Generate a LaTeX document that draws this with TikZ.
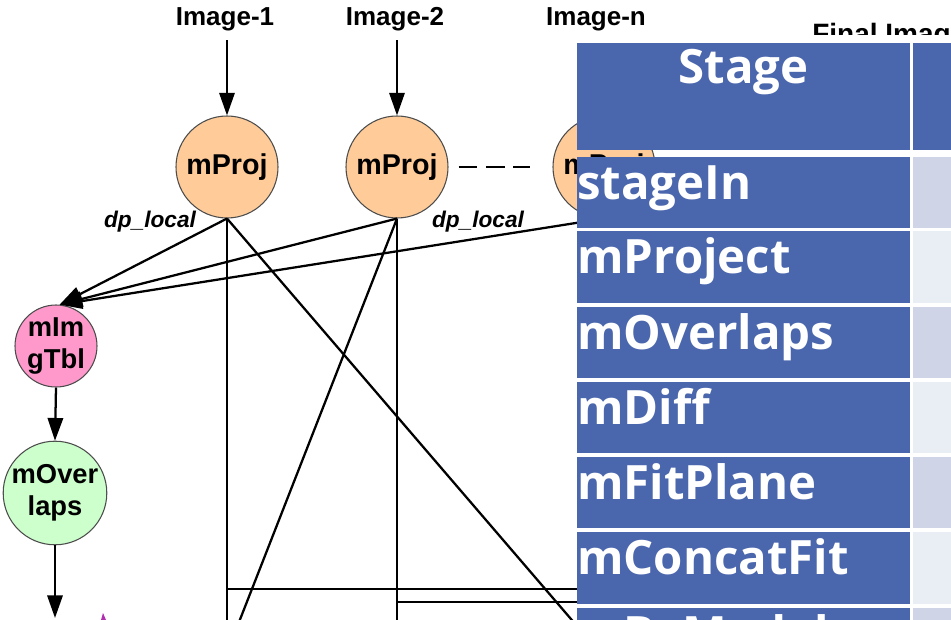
\documentclass[tikz,border=0pt]{standalone}
\usepackage{fontspec}
\setmainfont{Liberation Sans}
\newfontfamily\tablefont{Open Sans}
\usetikzlibrary{arrows.meta}

\definecolor{projorange}{HTML}{FFCC99}
\definecolor{tblpink}{HTML}{FF99CC}
\definecolor{ovlgreen}{HTML}{CCFFCC}
\definecolor{hdrblue}{HTML}{4A66AC}
\definecolor{cellA}{HTML}{CFD5E6}
\definecolor{cellB}{HTML}{E9EDF4}
\definecolor{markpurple}{HTML}{B030B0}

\tikzset{
  job/.style={circle, draw=black!70, line width=0.8pt, inner sep=0pt, align=center,
    font=\bfseries\fontsize{20.5}{24}\selectfont},
  projjob/.style={job, fill=projorange, minimum size=76.5pt,
    font=\bfseries\fontsize{21.5}{25}\selectfont},
  conn/.style={line width=1.7pt, draw=black},
  arr/.style={conn, -{Triangle[length=17pt,width=11.5pt]}},
  inlabel/.style={font=\bfseries\fontsize{19.5}{23}\selectfont, inner sep=7pt},
  dplabel/.style={font=\bfseries\itshape\fontsize{17}{20}\selectfont, inner sep=0pt},
  tabletext/.style={inner sep=0pt, text=white,
    font=\tablefont\bfseries\fontsize{35.5}{42}\selectfont},
  rowtext/.style={tabletext, anchor=base west},
}

\begin{document}
\begin{tikzpicture}[x=0.75pt,y=-0.75pt]
\useasboundingbox (0,0) rectangle (951,620);
\begin{scope}
\clip (0,0) rectangle (951,620);

% ---------- workflow graph ----------
\node[inlabel] (img1) at (225,19) {Image-1};
\node[inlabel] (img2) at (395,19) {Image-2};
\node[inlabel] (imgn) at (596,19) {Image-n};
\node[anchor=base west, inner sep=0pt, font=\bfseries\fontsize{21}{25}\selectfont]
  (final) at (812,44) {Final Image};

\node[projjob] (p1) at (227,167) {mProj};
\node[projjob] (p2) at (397,167) {mProj};
\node[projjob] (p3) at (604,167) {mProj};

\node[job, fill=tblpink, minimum size=61.5pt] (tbl) at (56,346) {mIm\\gTbl};
\node[job, fill=ovlgreen, minimum size=73.5pt] (ovl) at (55,493) {mOver\\laps};

\node[dplabel] (dp1) at (150,222) {dp\_local};
\node[dplabel] (dp2) at (478,222) {dp\_local};

% free ends of the connectors leaving the frame
\coordinate (ovlout) at (55,618);
\coordinate (v1) at (227,640);
\coordinate (v2) at (397,640);
\coordinate (d1) at (589,640);
\coordinate (d2) at (232,640);
\coordinate (h1a) at (227,589);
\coordinate (h1b) at (600,589);
\coordinate (h2a) at (397,602);
\coordinate (h2b) at (600,602);

% inputs
\draw[arr] (img1.south -| p1.north) -- (p1.north);
\draw[arr] (img2.south -| p2.north) -- (p2.north);
\draw[arr] (imgn.south -| p3.north) -- (p3.north);

% the elided projections
\draw[conn, dash pattern=on 14pt off 6.5pt] ([xshift=7.5pt]p2.east) -- ([xshift=-16.5pt]p3.west);

% projections into the image table
\draw[arr] (p1.south) -- (tbl.85);
\draw[arr] (p2.south) -- (tbl.85);
\draw[arr] (p3.south) -- (tbl.85);

\draw[arr] (tbl.south) -- (ovl.north);
\draw[arr] (ovl.south) -- (ovlout);

% projected images going further down
\draw[conn] (p1.south) -- (v1);
\draw[conn] (p1.south) -- (d1);
\draw[conn] (p2.south) -- (v2);
\draw[conn] (p2.south) -- (d2);
\draw[conn] (h1a) -- (h1b);
\draw[conn] (h2a) -- (h2b);

% top of the next job, just entering the frame
\fill[markpurple] (101,620) -- (103,613) -- (106,620) -- cycle;

% ---------- stage table ----------
\fill[white] (577,35) rectangle (960,43);
\fill[hdrblue] (577,43) rectangle (910,150);
\fill[hdrblue] (913,43) rectangle (960,150);
\node[tabletext, anchor=base] (hstage) at (743.5,84) {Stage};

\foreach \ya/\yb/\lab/\cellcol in {
  157/228/stageIn/cellA,
  231/303/mProject/cellB,
  307/378/mOverlaps/cellA,
  382/453/mDiff/cellB,
  457/528/mFitPlane/cellA,
  532/604/mConcatFit/cellB,
  608/680/mBgModel/cellA}{
  \fill[hdrblue] (577,\ya) rectangle (910,\yb);
  \fill[\cellcol] (913,\ya) rectangle (960,\yb);
  \node[rowtext] at (577,\ya+43) {\lab};
}
\end{scope}
\end{tikzpicture}
\end{document}
